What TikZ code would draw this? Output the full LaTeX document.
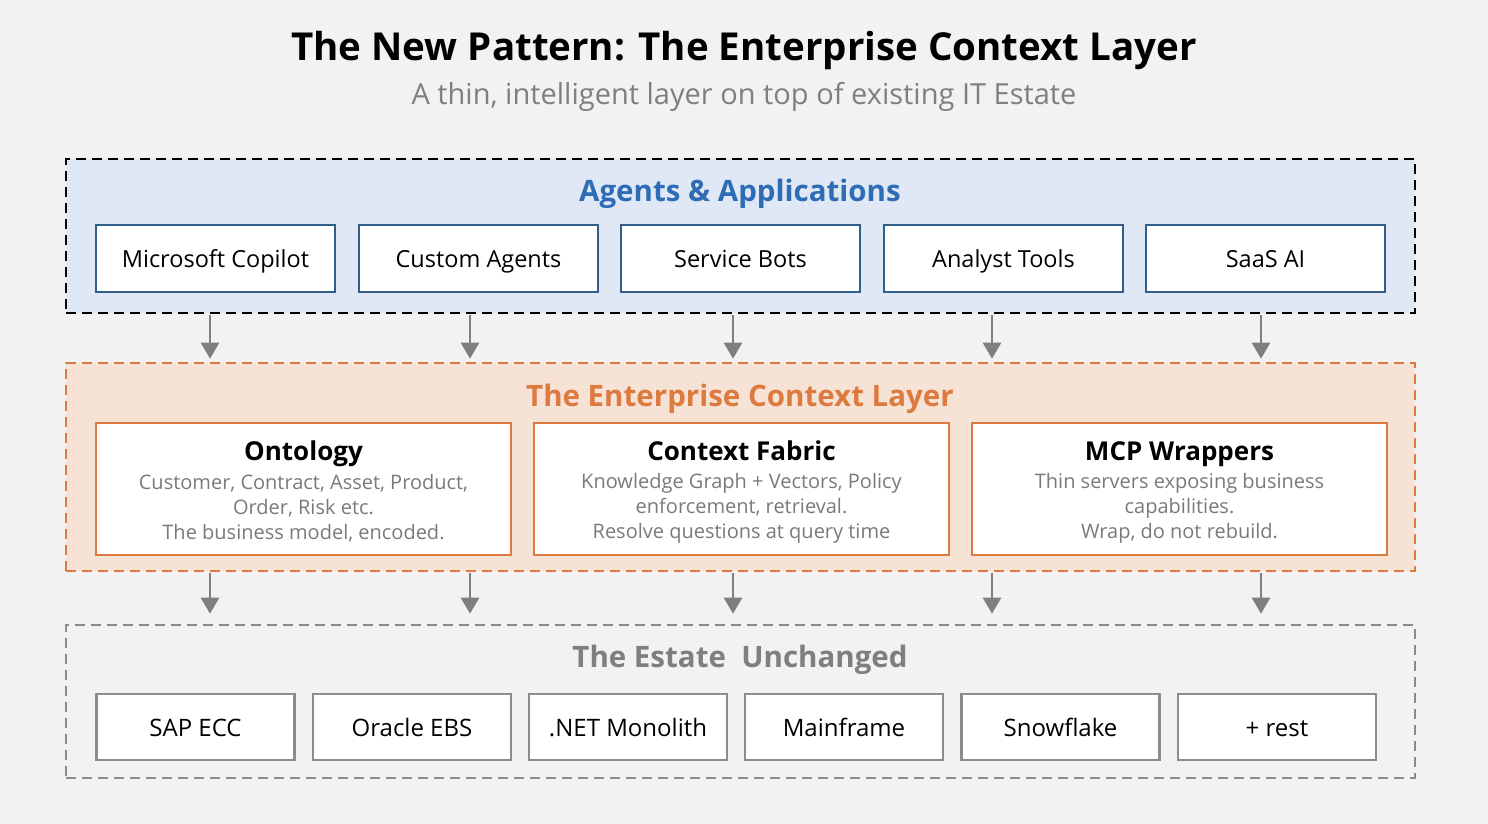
\documentclass[tikz,border=0pt]{standalone}
\usepackage{fontspec}
\setmainfont{Open Sans}
\usetikzlibrary{arrows.meta}
\definecolor{bg}{HTML}{F2F2F2}
\definecolor{agentfill}{HTML}{DFE8F4}
\definecolor{agentblue}{HTML}{2E6DB5}
\definecolor{boxblue}{HTML}{2F5F8A}
\definecolor{ctxfill}{HTML}{F7E3D6}
\definecolor{ctxorange}{HTML}{DD7A3F}
\definecolor{estgray}{HTML}{8C8C8C}
\definecolor{titlegray}{HTML}{7F7F7F}
\definecolor{descgray}{HTML}{7A7A7A}
\definecolor{arrowgray}{HTML}{7F7F7F}
\tikzset{
  layer/.style={line width=2.6pt, dash pattern=on 10pt off 6pt, inner sep=0pt},
  agentbox/.style={draw=boxblue, fill=white, line width=2.6pt, minimum width=239pt, minimum height=67pt, inner sep=0pt, text height=20pt, text depth=2pt, font=\fontsize{23.5}{26}\selectfont},
  ctxbox/.style={draw=ctxorange, fill=white, line width=2.6pt, minimum width=415pt, minimum height=132pt, inner sep=0pt},
  estbox/.style={draw=estgray, fill=white, line width=2.6pt, minimum width=198pt, minimum height=66pt, inner sep=0pt, text height=20pt, text depth=2pt, font=\fontsize{24}{26}\selectfont},
  flow/.style={draw=arrowgray, line width=2.8pt, -{Triangle[length=16pt,width=18pt]}},
  layertitle/.style={font=\fontsize{29.5}{32}\selectfont\bfseries},
  cardtitle/.style={font=\fontsize{26}{28}\selectfont\bfseries, anchor=base},
  carddesc/.style={font=\fontsize{20}{25}\selectfont, text=descgray, align=center},
}
\begin{document}
\begin{tikzpicture}[x=1pt,y=-1pt]
\fill[bg] (0,0) rectangle (1488,824);
\useasboundingbox (0,0) rectangle (1488,824);

\node[font=\fontsize{38.5}{42}\selectfont\bfseries] (title) at (744,50) {The New Pattern: The Enterprise Context Layer};
\node[font=\fontsize{29}{32}\selectfont, text=titlegray] (subtitle) at (744,97) {A thin, intelligent layer on top of existing IT Estate};

% Agents layer
\node[layer, draw=black, fill=agentfill, minimum width=1349pt, minimum height=154pt] (agents) at (740.5,236) {};
\node[layertitle, text=agentblue] (agentstitle) at (740,194) {Agents \& Applications};
\node[agentbox] (a1) at (215.5,258.5) {Microsoft Copilot};
\node[agentbox] (a2) at (478.5,258.5) {Custom Agents};
\node[agentbox] (a3) at (740.5,258.5) {Service Bots};
\node[agentbox] (a4) at (1003.5,258.5) {Analyst Tools};
\node[agentbox] (a5) at (1265.5,258.5) {SaaS AI};

% Context layer
\node[layer, draw=ctxorange, fill=ctxfill, minimum width=1349pt, minimum height=208pt] (context) at (740.5,467) {};
\node[layertitle, text=ctxorange] (ctxtitle) at (740,399) {The Enterprise Context Layer};
\node[ctxbox] (c1) at (303.5,489) {};
\node[ctxbox] (c2) at (741.5,489) {};
\node[ctxbox] (c3) at (1179.5,489) {};
\node[cardtitle] (c1t) at (303.5,460) {Ontology};
\node[carddesc] (c1d) at (303.5,508) {Customer, Contract, Asset, Product,\\Order, Risk etc.\\The business model, encoded.};
\node[cardtitle] (c2t) at (741.5,460) {Context Fabric};
\node[carddesc] (c2d) at (741.5,508) {Knowledge Graph + Vectors, Policy\\enforcement, retrieval.\\Resolve questions at query time};
\node[cardtitle] (c3t) at (1179.5,460) {MCP Wrappers};
\node[carddesc] (c3d) at (1179.5,508) {Thin servers exposing business\\capabilities.\\Wrap, do not rebuild.};

% Estate layer
\node[layer, draw=estgray, minimum width=1349pt, minimum height=153pt] (estate) at (740.5,701.5) {};
\node[layertitle, text=titlegray] (esttitle) at (740,660) {The Estate\ \ Unchanged};
\node[estbox] (e1) at (195.5,727) {SAP ECC};
\node[estbox] (e2) at (412,727) {Oracle EBS};
\node[estbox] (e3) at (628,727) {.NET Monolith};
\node[estbox] (e4) at (844,727) {Mainframe};
\node[estbox] (e5) at (1060.5,727) {Snowflake};
\node[estbox] (e6) at (1277,727) {+ rest};

% arrow columns
\foreach \i/\x in {1/210,2/470,3/733,4/992,5/1261}{
  \coordinate (ax\i) at (\x,0);
  \draw[flow] ([yshift=-1pt]agents.south -| ax\i) -- ([yshift=3pt]context.north -| ax\i);
  \draw[flow] ([yshift=-1pt]context.south -| ax\i) -- ([yshift=10pt]estate.north -| ax\i);
}
\end{tikzpicture}
\end{document}
